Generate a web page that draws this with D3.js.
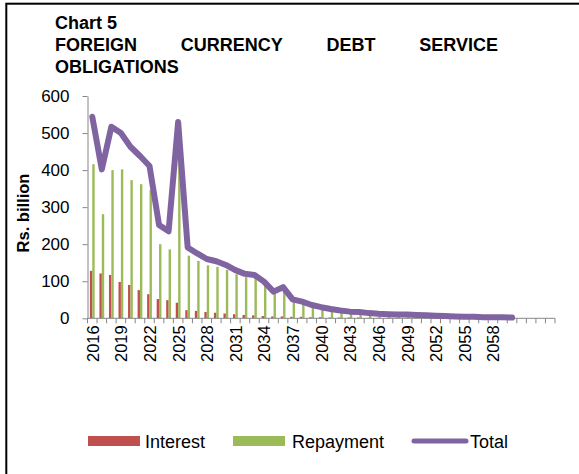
<!DOCTYPE html>
<html>
<head>
<meta charset="utf-8">
<script src="https://cdn.jsdelivr.net/npm/d3@7/dist/d3.min.js"></script>
<style>
  html, body { margin: 0; padding: 0; background: #fff; }
  svg { display: block; font-family: "Liberation Sans", Arial, sans-serif; }
</style>
</head>
<body>
<svg id="chart" width="579" height="474"></svg>
<script>
// Foreign currency debt service obligations, Rs. billion
const categories = [
  "2016","2017","2018","2019","2020","2021","2022","2023","2024","2025",
  "2026","2027","2028","2029","2030","2031","2032","2033","2034","2035",
  "2036","2037","2038","2039","2040","2041","2042","2043","2044","2045",
  "2046","2047","2048","2049","2050","2051","2052","2053","2054","2055",
  "2056","2057","2058","2059","2060","2061","2062","2063","2064"
];
const interest = [
  128, 121, 117, 98, 90, 76, 65, 52, 49, 42,
  22, 20, 17, 15, 13, 11, 9, 8, 6, 5,
  5, 4, 4, 3, 3, 2, 2, 2, 2, 1,
  1, 1, 1, 1, 1, 1, 1, 0.5, 0.5, 0.5,
  0.5, 0.3, 0.3, 0.3, 0.2
];
const repayment = [
  416, 281, 400, 402, 373, 362, 346, 200, 186, 488,
  169, 155, 143, 139, 131, 119, 111, 109, 93, 67,
  79, 47, 41, 33, 27, 23, 19, 16, 15, 13,
  11, 10, 9, 9, 8, 7, 6, 5.5, 4.5, 3.5,
  3.5, 2.7, 2.7, 2.7, 1.8
];
const total = [
  544, 402, 517, 500, 463, 438, 411, 252, 235, 530,
  191, 175, 160, 154, 144, 130, 120, 117, 99, 72,
  84, 51, 45, 36, 30, 25, 21, 18, 17, 14,
  12, 11, 10, 10, 9, 8, 7, 6, 5, 4,
  4, 3, 3, 3, 2
];
const tickLabels = ["2016","2019","2022","2025","2028","2031","2034","2037","2040","2043","2046","2049","2052","2055","2058"];
const yTicks = [0, 100, 200, 300, 400, 500, 600];
const seriesNames = ["Interest", "Repayment", "Total"];
const titleLines = ["Chart 5", "FOREIGN CURRENCY DEBT SERVICE", "OBLIGATIONS"];
const yTitle = "Rs. billion";

const colors = { Interest: "#C0504D", Repayment: "#9BBB59", Total: "#8064A2" };
const axisColor = "#868686";

const svg = d3.select("#chart");

// frame
svg.append("rect")
  .attr("x", 6.3).attr("y", 3.7).attr("width", 700).attr("height", 600)
  .attr("fill", "none").attr("stroke", "#000").attr("stroke-width", 2);

// plot area
const plotLeft = 87.5, plotRight = 555, plotTop = 96, plotBottom = 318.3;

const x = d3.scaleBand().domain(categories).range([plotLeft, plotRight])
  .paddingInner(0.5).paddingOuter(0.25);
const xs = d3.scaleBand().domain(["Interest", "Repayment"]).range([0, x.bandwidth()]);
const y = d3.scaleLinear().domain([0, 600]).range([plotBottom, plotTop]);
const cx = c => x(c) + x.bandwidth() / 2;

// bars
const barData = [];
interest.forEach((v, i) => barData.push({ cat: categories[i], key: "Interest", v }));
repayment.forEach((v, i) => barData.push({ cat: categories[i], key: "Repayment", v }));
svg.append("g").selectAll("rect").data(barData).join("rect")
  .attr("x", d => x(d.cat) + xs(d.key))
  .attr("width", xs.bandwidth())
  .attr("y", d => y(d.v))
  .attr("height", d => y(0) - y(d.v))
  .attr("fill", d => colors[d.key]);

// y axis
const yAxis = svg.append("g").attr("transform", `translate(${plotLeft},0)`)
  .call(d3.axisLeft(y).tickValues(yTicks).tickSize(5).tickPadding(13).tickSizeOuter(0));
yAxis.select(".domain").attr("stroke", axisColor);
yAxis.selectAll(".tick line").attr("stroke", axisColor);
yAxis.selectAll(".tick text").attr("fill", "#000").style("font-size", "17px")
  .style("font-family", "'Liberation Sans', Arial, sans-serif");

// x axis: line and ticks at category boundaries
const xg = svg.append("g");
xg.append("line").attr("x1", plotLeft).attr("x2", plotRight).attr("y1", plotBottom).attr("y2", plotBottom)
  .attr("stroke", axisColor);
const bounds = categories.map(c => cx(c) - x.step() / 2)
  .concat([cx(categories[categories.length - 1]) + x.step() / 2]);
xg.selectAll("line.tk").data(bounds).join("line").attr("class", "tk")
  .attr("x1", d => d).attr("x2", d => d).attr("y1", plotBottom).attr("y2", plotBottom + 5)
  .attr("stroke", axisColor);
xg.selectAll("text").data(tickLabels).join("text")
  .attr("transform", d => `translate(${cx(d) + 0.5},${plotBottom + 7}) rotate(-90)`)
  .attr("text-anchor", "end").attr("dy", "0.36em")
  .style("font-size", "16.5px").attr("fill", "#000")
  .text(d => d);

// total line
const line = d3.line().x((d, i) => cx(categories[i])).y(d => y(d));
svg.append("path").datum(total).attr("d", line)
  .attr("fill", "none").attr("stroke", colors.Total).attr("stroke-width", 6)
  .attr("stroke-linejoin", "round").attr("stroke-linecap", "round");

// y title
svg.append("text")
  .attr("transform", `translate(29,213) rotate(-90)`)
  .attr("text-anchor", "middle").style("font-size", "16.5px").style("font-weight", "bold")
  .text(yTitle);

// title
const tl = svg.append("g").style("font-size", "18px").style("font-weight", "bold");
tl.append("text").attr("x", 55).attr("y", 29).text(titleLines[0]);
tl.append("text").attr("x", 55).attr("y", 73).text(titleLines[2]);
// justified middle line
const words = titleLines[1].split(" ");
const wNodes = words.map(w => tl.append("text").attr("y", 51).text(w));
const widths = wNodes.map(n => n.node().getComputedTextLength());
const span = 498 - 55;
const gap = (span - d3.sum(widths)) / (words.length - 1);
let px = 55;
wNodes.forEach((n, i) => { n.attr("x", px); px += widths[i] + gap; });

// legend
const lg = svg.append("g").style("font-size", "18px");
const legendPos = [
  { name: seriesNames[0], sx: 88, tx: 145 },
  { name: seriesNames[1], sx: 233, tx: 292 },
  { name: seriesNames[2], sx: 412, tx: 470 }
];
legendPos.forEach(p => {
  if (p.name === "Total") {
    lg.append("line").attr("x1", p.sx + 2).attr("x2", p.sx + 54).attr("y1", 441).attr("y2", 441)
      .attr("stroke", colors.Total).attr("stroke-width", 5).attr("stroke-linecap", "round");
  } else {
    lg.append("rect").attr("x", p.sx).attr("y", 436).attr("width", 52).attr("height", 10)
      .attr("fill", colors[p.name]);
  }
  lg.append("text").attr("x", p.tx).attr("y", 447.5).text(p.name);
});
</script>
</body>
</html>
